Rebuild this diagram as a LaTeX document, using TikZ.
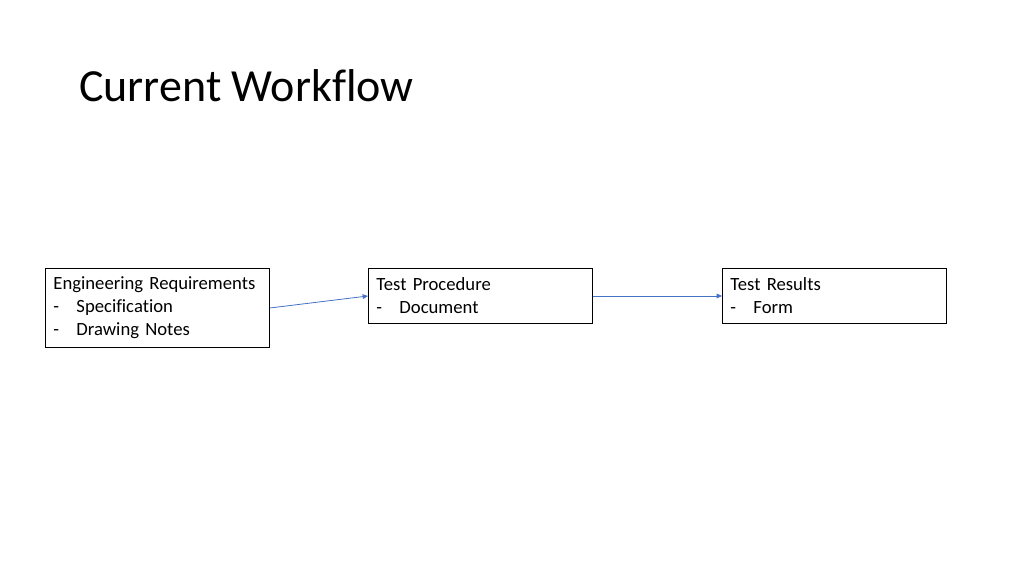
\documentclass[tikz,border=0pt]{standalone}
\usepackage{fontspec}
\setmainfont[Ligatures=NoCommon]{Carlito}
\usepackage{tikz}
\usetikzlibrary{arrows.meta,positioning}

\newcommand{\itm}[1]{\makebox[17.25pt][l]{-}#1}

\begin{document}
\begin{tikzpicture}[x=0.75pt,y=-0.75pt,
  box/.style={draw,line width=0.7pt,align=left,anchor=north west,text width=156pt,
    inner xsep=6pt,inner ysep=4pt,minimum width=168pt,font=\fontsize{14}{17.25}\selectfont},
  arr/.style={-{Triangle[length=4pt,width=3.5pt]},draw={rgb,255:red,68;green,114;blue,196},line width=0.6pt}]
\useasboundingbox (0,0) rectangle (1024,576);
\node[anchor=base west,inner sep=0pt,font=\fontsize{34.5}{40}\selectfont] (title) at (79,101) {Current Workflow};
\node[box,minimum height=59.25pt] (req) at (45,268) {Engineering Requirements\\\itm{Specification}\\\itm{Drawing Notes}};
\node[box,minimum height=41.25pt] (proc) at (368,268) {Test Procedure\\\itm{Document}};
\node[box,minimum height=41.25pt] (res) at (722,268) {Test Results\\\itm{Form}};
\draw[arr] (req.east)--(proc.west);
\draw[arr] (proc.east)--(res.west);
\end{tikzpicture}
\end{document}
